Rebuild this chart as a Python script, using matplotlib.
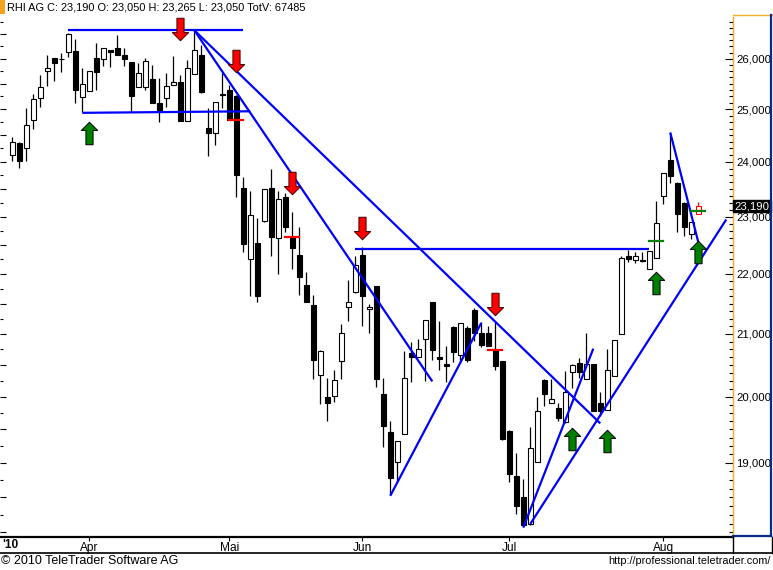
import matplotlib
matplotlib.use("Agg")
import matplotlib.pyplot as plt
import matplotlib.transforms as mtransforms
from matplotlib.path import Path
from matplotlib.lines import Line2D
from matplotlib.patches import Rectangle
from matplotlib.ticker import FixedLocator, NullFormatter, FuncFormatter
import numpy as np

plt.rcParams['font.family'] = ['Liberation Sans', 'DejaVu Sans']

# -----------------------
# Daily candles RHI AG, 17 Mar - 6 Aug 2010 (EUR)
# -----------------------
opens = [24.13, 24.36, 24.26, 24.79, 25.22, 25.76, 26.01, 26.00, 26.13, 26.16,
         25.23, 25.36, 26.01, 25.99, 26.17, 26.21, 26.08, 25.93, 25.44, 25.44,
         25.59, 25.12, 25.22, 25.47, 25.53, 24.78, 25.69, 26.07, 24.64, 24.54,
         25.30, 25.38, 25.26, 23.52, 22.25, 22.53, 22.92, 23.52, 22.63, 23.36,
         22.64, 22.32, 21.82, 21.47, 20.34, 20.00, 20.01, 20.56, 21.44, 21.69,
         22.32, 21.41, 21.79, 20.05, 19.46, 19.01, 19.43, 20.69, 20.62, 20.91,
         21.52, 20.62, 20.51, 21.12, 20.66, 21.10, 21.39, 21.01, 21.01, 20.74,
         20.56, 19.48, 18.80, 18.50, 18.12, 19.01, 20.26, 19.91, 19.82, 19.61,
         20.38, 20.53, 20.28, 20.51, 19.91, 19.80, 20.32, 20.99, 22.31, 22.24,
         22.24, 22.09, 22.28, 23.38, 24.04, 23.61, 23.25, 22.69]
highs = [24.47, 24.37, 25.03, 25.30, 25.68, 26.08, 26.01, 26.11, 26.52, 26.41,
         25.81, 25.76, 26.32, 26.21, 26.17, 26.49, 26.21, 25.94, 25.91, 26.01,
         25.88, 25.61, 25.71, 26.06, 25.68, 25.97, 26.59, 26.28, 25.02, 25.14,
         25.71, 25.48, 25.27, 23.72, 23.46, 22.98, 23.50, 23.87, 23.46, 23.42,
         23.09, 22.82, 22.04, 21.64, 20.74, 20.30, 20.42, 21.16, 21.89, 22.30,
         22.47, 21.49, 21.79, 20.30, 19.63, 19.32, 20.73, 20.86, 20.91, 21.22,
         21.53, 21.21, 20.81, 21.13, 21.17, 21.13, 21.42, 21.19, 21.13, 21.21,
         20.57, 19.49, 19.15, 18.77, 19.53, 19.99, 20.28, 20.28, 19.91, 20.41,
         20.51, 20.61, 21.01, 20.52, 20.07, 20.76, 20.90, 22.31, 22.41, 22.37,
         22.37, 22.40, 23.28, 23.80, 24.56, 23.62, 23.26, 22.91]
lows = [24.02, 23.88, 24.02, 24.62, 25.05, 25.45, 25.55, 25.74, 26.04, 25.13,
        24.94, 25.35, 25.37, 25.86, 25.84, 26.07, 25.86, 24.94, 25.43, 25.38,
        25.12, 24.75, 25.05, 25.47, 24.77, 24.78, 25.69, 25.32, 24.10, 24.32,
        25.02, 24.79, 23.35, 22.38, 21.63, 21.53, 22.90, 22.30, 22.00, 22.73,
        22.09, 21.64, 21.52, 20.27, 19.88, 19.63, 19.92, 20.27, 21.21, 21.68,
        21.13, 21.02, 20.15, 19.24, 18.53, 18.74, 19.43, 20.23, 20.62, 20.25,
        20.58, 20.42, 20.23, 20.54, 20.54, 20.54, 20.88, 20.78, 20.80, 20.42,
        19.34, 18.72, 18.26, 18.07, 18.11, 19.01, 19.86, 19.91, 19.63, 19.60,
        20.13, 20.30, 20.27, 19.78, 19.71, 19.79, 20.32, 20.99, 22.20, 22.18,
        22.20, 22.09, 22.28, 23.22, 23.60, 22.73, 22.66, 22.60]
closes = [24.37, 24.01, 24.70, 25.20, 25.44, 25.81, 25.92, 25.99, 26.50, 25.37,
          25.49, 25.75, 25.74, 26.21, 26.13, 26.08, 26.00, 25.25, 25.71, 25.95,
          25.13, 24.97, 25.46, 25.53, 24.78, 25.81, 26.17, 25.33, 24.54, 25.14,
          25.27, 24.80, 23.75, 22.52, 23.03, 21.63, 23.50, 22.64, 23.32, 22.82,
          22.45, 21.94, 21.53, 20.58, 20.73, 19.90, 20.26, 21.01, 21.52, 22.15,
          21.63, 21.45, 20.27, 19.55, 18.78, 19.32, 20.30, 20.62, 20.76, 21.22,
          20.74, 20.59, 20.49, 20.71, 21.17, 20.58, 21.02, 20.82, 20.81, 20.48,
          19.36, 18.84, 18.37, 18.11, 19.22, 19.78, 20.05, 19.97, 19.67, 20.08,
          20.50, 20.38, 20.51, 19.78, 19.78, 20.42, 20.90, 22.27, 22.25, 22.30,
          22.23, 22.40, 22.89, 23.80, 23.73, 23.04, 22.82, 22.91]

# current (live) candle, 9 Aug
last_open, last_high, last_low, last_close = 23.05, 23.265, 23.05, 23.19

# signals: index of candle, price level
sell_idx = [24, 32, 40, 50, 69]
sell_px = [26.61, 25.95, 23.60, 22.80, 21.50]
buy_idx = [11, 80, 85, 92, 98]
buy_px = [24.54, 19.36, 19.33, 21.84, 22.37]
stop_idx = [32, 40, 69]
stop_px = [24.80, 22.64, 20.74]
entry_idx = [92, 98]
entry_px = [22.57, 23.11]

# trend lines: (x0, y0, x1, y1)
trend_lines = [
    (8, 26.58, 33, 26.58),
    (10, 24.93, 34, 24.96),
    (26, 26.58, 84, 19.59),
    (26, 26.58, 60, 20.24),
    (49, 22.43, 91, 22.43),
    (54, 18.52, 67, 21.18),
    (73, 18.07, 83, 20.76),
    (74, 18.12, 102, 22.95),
    (94, 24.55, 98, 22.55),
]

month_idx = [11, 31, 50, 71, 93]
month_labels = ["Apr", "Mai", "Jun", "Jul", "Aug"]
price_ticks = [19, 20, 21, 22, 23, 24, 25, 26]

W, H = 773, 570


def fx(px):
    return px / W


def fy(py):
    return 1 - py / H


fig = plt.figure(figsize=(W / 100, H / 100), dpi=100)
fig.patch.set_facecolor("white")
ax = fig.add_axes([0, fy(537), fx(733), (537 - 17) / H])

# -----------------------
# Candles
# -----------------------
o = np.array(opens)
c = np.array(closes)
hi = np.array(highs)
lo = np.array(lows)
x = np.arange(len(o))
up = c >= o
ax.vlines(x, lo, hi, color="black", lw=0.9, zorder=2)
body_lo = np.minimum(o, c)
body_h = np.maximum(np.abs(c - o), 0.004)
ax.bar(x[up], body_h[up], 0.68, bottom=body_lo[up], facecolor="white",
       edgecolor="black", lw=0.8, zorder=3)
ax.bar(x[~up], body_h[~up], 0.68, bottom=body_lo[~up], facecolor="black",
       edgecolor="black", lw=0.8, zorder=3)

xl = len(o)
ax.vlines(xl, last_low, last_high, color="red", lw=0.9, zorder=2)
ax.bar([xl], [last_close - last_open], 0.68, bottom=last_open, facecolor="white",
       edgecolor="red", lw=0.8, zorder=3)

# trend lines
for x0, y0, x1, y1 in trend_lines:
    ax.plot([x0, x1], [y0, y1], color="#0000FF", lw=1.6, zorder=4,
            solid_capstyle="butt")

# stop / entry marks
for i, p in zip(stop_idx, stop_px):
    ax.plot([i - 1, i + 1], [p, p], color="#FF0000", lw=1.6, zorder=5)
for i, p in zip(entry_idx, entry_px):
    ax.plot([i - 1, i + 1], [p, p], color="#008000", lw=1.6, zorder=5)

# arrows
arrow_verts = [(-3.5, 11), (3.5, 11), (3.5, -3), (8, -3), (0, -11), (-8, -3),
               (-3.5, -3), (-3.5, 11)]
codes = [Path.MOVETO] + [Path.LINETO] * 6 + [Path.CLOSEPOLY]
down_arrow = Path(arrow_verts, codes)
up_arrow = Path([(vx, -vy) for vx, vy in arrow_verts], codes)
ax.plot(sell_idx, sell_px, ls="none", marker=down_arrow, ms=16.2,
        mfc="#FF0000", mec="#400000", mew=0.7, zorder=6)
ax.plot(buy_idx, buy_px, ls="none", marker=up_arrow, ms=16.2,
        mfc="#008000", mec="black", mew=0.7, zorder=6)

# -----------------------
# Axes
# -----------------------
ax.set_yscale("log")
ax.set_ylim(17.937, 26.855)
ax.set_xlim(-1.76, 102.96)
for s in ["top", "left"]:
    ax.spines[s].set_visible(False)
ax.spines["right"].set_color("#F0B030")
ax.spines["right"].set_linewidth(1.0)
ax.spines["bottom"].set_color("black")
ax.spines["bottom"].set_linewidth(1.6)

ax.yaxis.set_major_locator(FixedLocator(np.arange(18.0, 27.01, 0.5)))
ax.yaxis.set_minor_locator(FixedLocator(np.arange(18.0, 27.01, 0.25)))
ax.yaxis.set_major_formatter(NullFormatter())
ax.yaxis.set_minor_formatter(NullFormatter())
ax.tick_params(axis="y", which="major", direction="in", length=4, width=0.8,
               left=True, right=False)
ax.tick_params(axis="y", which="minor", direction="in", length=2, width=0.8,
               left=True, right=False)

ax.set_xticks(month_idx)
ax.set_xticklabels(month_labels, fontsize=8.6)
ax.tick_params(axis="x", direction="out", length=3, width=0.8, pad=0.8)

ax2 = ax.twinx()
ax2.set_yscale("log")
ax2.set_ylim(ax.get_ylim())
for s in ["top", "left", "bottom"]:
    ax2.spines[s].set_visible(False)
ax2.spines["right"].set_color("#F0B030")
ax2.yaxis.set_major_locator(FixedLocator(price_ticks))
ax2.yaxis.set_minor_locator(FixedLocator(np.arange(18.0, 27.01, 0.125)))
ax2.yaxis.set_major_formatter(FuncFormatter(lambda v, p: f"{v:.3f}".replace(".", ",")))
ax2.yaxis.set_minor_formatter(NullFormatter())
ax2.tick_params(axis="y", which="major", direction="in", length=6, width=0.8,
                labelsize=8.2, pad=2.5)
ax2.tick_params(axis="y", which="minor", direction="in", length=3, width=0.8)

tag_tr = mtransforms.blended_transform_factory(ax2.transAxes, ax2.transData)
ax2.text(1.002, last_close, f"{last_close:.3f}".replace(".", ","), transform=tag_tr,
         color="white", fontsize=8.2, ha="left", va="center", clip_on=False,
         zorder=10, bbox=dict(boxstyle="square,pad=0.12", fc="black", ec="black"))

# -----------------------
# Frame pieces / header / footer
# -----------------------
def fline(x0, y0, x1, y1, color, lw):
    fig.add_artist(Line2D([fx(x0), fx(x1)], [fy(y0), fy(y1)], color=color, lw=lw,
                          transform=fig.transFigure))


fline(733, 15, 772, 15, "#F0B030", 1.0)
fline(770.5, 15, 770.5, 536, "#0A2A8A", 1.6)
fline(733, 535.5, 771, 535.5, "#0A2A8A", 1.6)
fline(0, 553, 773, 553, "black", 1.2)
fline(733, 537, 733, 553, "black", 1.0)
fline(771.5, 537, 771.5, 553, "black", 1.0)

fig.add_artist(Rectangle((0, fy(14)), fx(5), 14 / H, transform=fig.transFigure,
                         facecolor="#F5A31E", edgecolor="none"))
fig.text(fx(7), fy(7.5), "RHI AG C: 23,190 O: 23,050 H: 23,265 L: 23,050 TotV: 67485",
         fontsize=7.9, ha="left", va="center")
fig.text(fx(2), fy(545), "'10", fontsize=8.6, fontweight="bold", ha="left", va="center")
fig.text(fx(1), fy(561.5), "\u00a9 2010 TeleTrader Software AG", fontsize=9.0,
         ha="left", va="center")
fig.text(fx(771), fy(561.5), "http://professional.teletrader.com/", fontsize=7.8,
         ha="right", va="center")

fig.savefig("out.png", dpi=100)
